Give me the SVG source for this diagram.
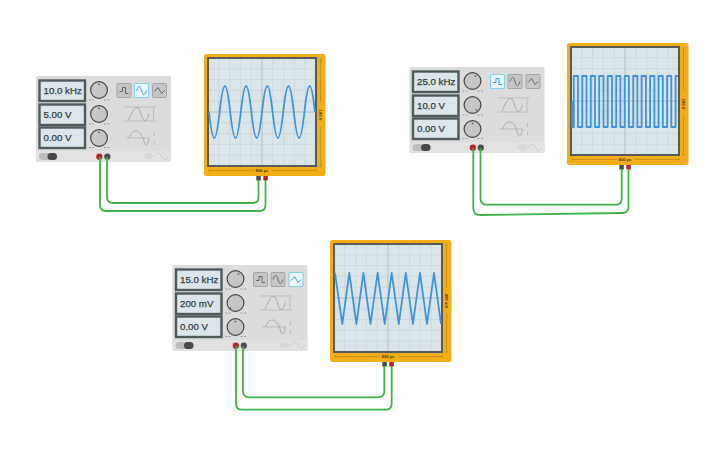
<svg xmlns="http://www.w3.org/2000/svg" xmlns:xlink="http://www.w3.org/1999/xlink" width="725" height="453" viewBox="0 0 725 453">
<style>
text{font-family:"Liberation Sans",Arial,sans-serif}
.panel{fill:#dcdcdc;stroke:none}
.strip{fill:#e1e1e1}
.disp{fill:#dce6ea;stroke:#4f5a5c;stroke-width:2.4}
.val{font-size:9.7px;fill:#333b3e;stroke:#333b3e;stroke-width:.25}
.knob{fill:#c6c6c6;stroke:#454545;stroke-width:1.2}
.dot{fill:#444}
.mark{fill:none;stroke:#888;stroke-width:.8;stroke-dasharray:2 1.500}
.btn{fill:#c6c6c6;stroke:#a4a4a4;stroke-width:1}
.btn-on{fill:#eef8fc;stroke:#80d2f0;stroke-width:1.100}
.gl{fill:none;stroke:#666;stroke-width:1}
.gl-on{fill:none;stroke:#3c9be0;stroke-width:1}
.faint{fill:none;stroke:#b4b4b4;stroke-width:.8}
.wavy{fill:none;stroke:#a4a4a4;stroke-width:.9}
.fainter{fill:none;stroke:#c9c9c9;stroke-width:.8}
.body{fill:#f2ad17}
.screen{fill:#dae5e9;stroke:#555b58;stroke-width:2}
.grid{stroke:#cdd7da;stroke-width:.9;fill:none}
.cross{stroke:#bfc9cb;stroke-width:1.300;fill:none}
.axis{stroke:#b98a1c;stroke-width:.7;fill:none}
.tiny{font-size:4.200px;fill:#4a3c10;font-weight:bold}
.wave{fill:none;stroke:#3e94dc;stroke-width:1.800;stroke-linejoin:round}
.wire{fill:none;stroke:#41b14a;stroke-width:1.800}
.red{fill:#b8222a}
.dark{fill:#484c4c}
</style>
<defs>
<g id="gen-base">
<rect class="panel" x="0" y="0" width="135" height="86" rx="1.500"/>
<rect class="strip" x="0" y="75" width="135" height="11" rx="1.500"/>
<rect class="disp" x="3.500" y="4.500" width="45.500" height="20.500"/>
<rect class="disp" x="3.500" y="28.500" width="45.500" height="20.500"/>
<rect class="disp" x="3.500" y="51.500" width="45.500" height="20.500"/>
<circle class="knob" cx="63" cy="14" r="8.400"/>
<circle class="knob" cx="63" cy="38" r="8.400"/>
<circle class="knob" cx="63" cy="62" r="8.400"/>
<path class="mark" d="M53 24H58M68 24H74M53 48H58M68 48H74M53 71.500H58M68 71.500H74"/>
<path class="faint" d="M88 31H120M88 45H120M117.500 32V44"/>
<path class="wavy" d="M92.500 44C95.500 37 98 31.500 101 31.500C105 31.500 105 44.500 109 44.500C110.800 44.500 112 41 113 37.500"/>
<path class="faint" d="M90 62H113M118 56V60M118 65V68.500"/>
<path class="wavy" d="M93 62C95 57 97 55 100 55C103 55 105 58 107 62C108 66 109 69 110 69C111.500 69 112.500 65 113 62"/>
<rect x="3" y="77" width="18" height="7" rx="3.500" fill="#bdbdbd"/>
<rect x="11.500" y="77" width="9.500" height="7" rx="3.500" fill="#484848"/>
<path class="fainter" d="M107 80H118M109 78H116M109 82H116M119 80.500C121 76 124 76 126 80.500C128 85 130 85 132 80.500"/>
<circle class="red" cx="63.300" cy="80.700" r="3.100"/>
<circle class="dark" cx="71.300" cy="80.700" r="3.100"/>
</g>
<g id="scope-base">
<rect class="body" x="0" y="0" width="121.500" height="122" rx="2.500"/>
<rect class="screen" x="4" y="4" width="108" height="108"/>
<path class="grid" d="M14.800 5V111M25.600 5V111M36.400 5V111M47.200 5V111M68.800 5V111M79.600 5V111M90.400 5V111M101.200 5V111M5 14.800H111M5 25.600H111M5 36.400H111M5 47.200H111M5 68.800H111M5 79.600H111M5 90.400H111M5 101.200H111"/>
<path class="cross" d="M58 5V111M5 58H111"/>
<path class="axis" d="M5 116.500H50M68 116.500H112M5 115V118M112 115V118M116.500 5V48M116.500 73V112M115 5H118M115 112H118"/>
<rect class="dark" x="52.300" y="122" width="4.500" height="4.500"/>
<rect class="red" x="59.300" y="122" width="4.500" height="4.500"/>
</g>
<path id="ic-square" d="M3 8H6V4H9V10H12"/>
<path id="ic-sine" d="M2.500 7C4.500 1.500 6 1.500 7.500 7C9 12.500 10.500 12.500 12.500 7"/>
<path id="ic-tri" d="M2.500 8L6 4L9.500 10L12.500 7"/>
</defs>

<g id="generator-1" transform="translate(36 76)">
<use xlink:href="#gen-base" href="#gen-base"/>
<text class="val" x="7.500" y="17.700">10.0 kHz</text>
<text class="val" x="7.500" y="41.500">5.00 V</text>
<text class="val" x="7.500" y="65.300">0.00 V</text>
<circle class="dot" cx="63" cy="8.500" r=".8"/><circle class="dot" cx="63" cy="32.500" r=".8"/><circle class="dot" cx="63" cy="56.500" r=".8"/>
<rect class="btn" x="81" y="7.500" width="14" height="14" rx="1"/><use class="gl" xlink:href="#ic-square" href="#ic-square" x="80.500" y="7.500"/>
<rect class="btn-on" x="98.500" y="7.500" width="14" height="14" rx="1"/><use class="gl-on" xlink:href="#ic-sine" href="#ic-sine" x="98" y="7.500"/>
<rect class="btn" x="116.500" y="7.500" width="14" height="14" rx="1"/><use class="gl" xlink:href="#ic-tri" href="#ic-tri" x="116" y="7.500"/>
</g>

<g id="oscilloscope-1" transform="translate(204 54)">
<use xlink:href="#scope-base" href="#scope-base"/>
<text class="tiny" x="58" y="118.300" text-anchor="middle">800 µs</text>
<text class="tiny" transform="translate(115.200 61) rotate(90)" text-anchor="middle">100 V</text>
<path class="wave" d="M5 58c3.860 34.670 6.740 34.670 10.600 0s6.740 -34.670 10.600 0s6.740 34.670 10.600 0s6.740 -34.670 10.600 0s6.740 34.670 10.600 0s6.740 -34.670 10.600 0s6.740 34.670 10.600 0s6.740 -34.670 10.600 0s6.740 34.670 10.600 0s6.740 -34.670 10.600 0"/>
</g>

<g id="generator-2" transform="translate(409.500 67)">
<use xlink:href="#gen-base" href="#gen-base"/>
<text class="val" x="7.500" y="17.700">25.0 kHz</text>
<text class="val" x="7.500" y="41.500">10.0 V</text>
<text class="val" x="7.500" y="65.300">0.00 V</text>
<circle class="dot" cx="66" cy="9" r=".8"/><circle class="dot" cx="67" cy="43" r=".8"/><circle class="dot" cx="63" cy="56.500" r=".8"/>
<rect class="btn-on" x="81" y="7.500" width="14" height="14" rx="1"/><use class="gl-on" xlink:href="#ic-square" href="#ic-square" x="80.500" y="7.500"/>
<rect class="btn" x="98.500" y="7.500" width="14" height="14" rx="1"/><use class="gl" xlink:href="#ic-sine" href="#ic-sine" x="98" y="7.500"/>
<rect class="btn" x="116.500" y="7.500" width="14" height="14" rx="1"/><use class="gl" xlink:href="#ic-tri" href="#ic-tri" x="116" y="7.500"/>
</g>

<g id="oscilloscope-2" transform="translate(567 43)">
<use xlink:href="#scope-base" href="#scope-base"/>
<text class="tiny" x="58" y="118.300" text-anchor="middle">800 µs</text>
<text class="tiny" transform="translate(115.200 61) rotate(90)" text-anchor="middle">200 V</text>
<path class="wave" d="M5 58V84H6.800V33H11V84H15.300V33H19.500V84H23.800V33H28V84H32.200V33H36.500V84H40.700V33H45V84H49.200V33H53.400V84H57.700V33H61.900V84H66.200V33H70.400V84H74.600V33H78.900V84H83.100V33H87.400V84H91.600V33H95.800V84H100.100V33H104.300V84H108.600V33H111"/>
</g>

<g id="generator-3" transform="translate(172.500 265)">
<use xlink:href="#gen-base" href="#gen-base"/>
<text class="val" x="7.500" y="17.700">15.0 kHz</text>
<text class="val" x="7.500" y="41.500">200 mV</text>
<text class="val" x="7.500" y="65.300">0.00 V</text>
<circle class="dot" cx="66" cy="9" r=".8"/><circle class="dot" cx="58" cy="43" r=".8"/><circle class="dot" cx="63" cy="56.500" r=".8"/>
<rect class="btn" x="81" y="7.500" width="14" height="14" rx="1"/><use class="gl" xlink:href="#ic-square" href="#ic-square" x="80.500" y="7.500"/>
<rect class="btn" x="98.500" y="7.500" width="14" height="14" rx="1"/><use class="gl" xlink:href="#ic-sine" href="#ic-sine" x="98" y="7.500"/>
<rect class="btn-on" x="116.500" y="7.500" width="14" height="14" rx="1"/><use class="gl-on" xlink:href="#ic-tri" href="#ic-tri" x="116" y="7.500"/>
</g>

<g id="oscilloscope-3" transform="translate(330 240)">
<use xlink:href="#scope-base" href="#scope-base"/>
<text class="tiny" x="58" y="118.300" text-anchor="middle">800 µs</text>
<text class="tiny" transform="translate(115.200 61) rotate(90)" text-anchor="middle">400 mV</text>
<path class="wave" d="M5 33L12.300 84L19.300 33L26.400 84L33.400 33L40.500 84L47.600 33L54.700 84L61.700 33L68.800 84L75.800 33L82.900 84L90 33L97 84L104 33L111 84"/>
</g>

<g id="connectors">
<path class="wire" d="M100 157V205Q100 211 106 211H259.500Q265.500 211 265.500 205V180"/>
<path class="wire" d="M107 157V197Q107 203 113 203H252.500Q258.500 203 258.500 197V180"/>
<path class="wire" d="M473.300 148V208Q473.300 215 480 215L622 213Q628.500 213 628.500 207V169"/>
<path class="wire" d="M480.500 148V198.500Q480.500 204.700 487 204.700H615.500Q621.700 204.700 621.700 198.500V169"/>
<path class="wire" d="M236 346V403.500Q236 409.700 242 409.700H385.500Q391.700 409.700 391.700 403.500V366"/>
<path class="wire" d="M243 346V391Q243 397.300 249 397.300H378Q384.300 397.300 384.300 391V366"/>
</g>
</svg>
